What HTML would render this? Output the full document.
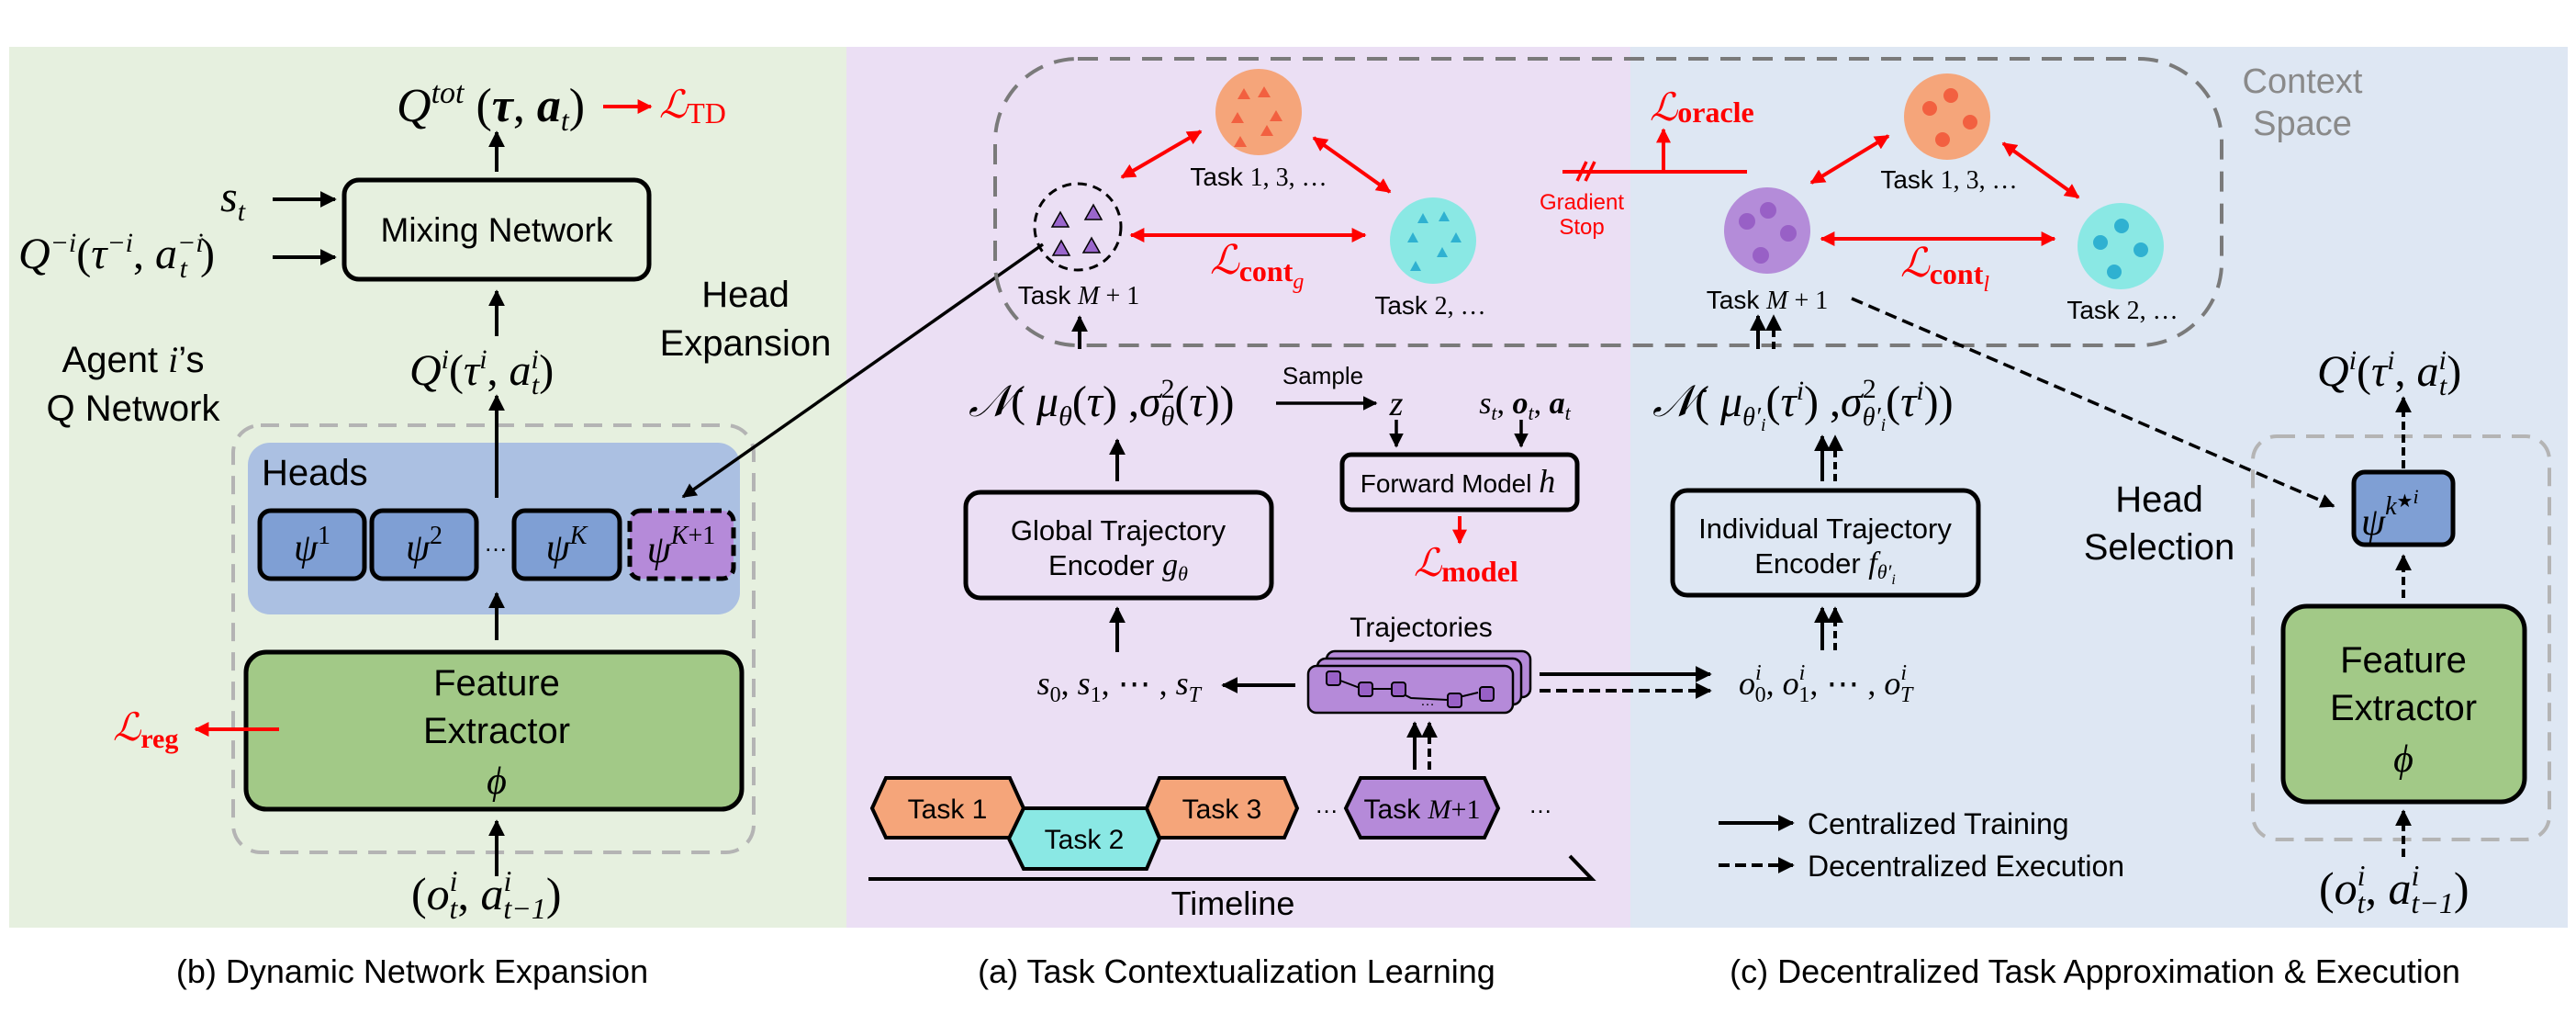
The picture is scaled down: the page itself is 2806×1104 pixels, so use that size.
<!DOCTYPE html>
<html><head><meta charset="utf-8"><style>
html,body{margin:0;padding:0;background:#fff}
svg{display:block}
.s{font-family:"Liberation Sans",sans-serif}
.m{font-family:"Liberation Serif",serif;font-style:italic}
.r{font-family:"Liberation Serif",serif}
</style></head><body>
<svg width="2806" height="1104" viewBox="0 0 2806 1104" xmlns="http://www.w3.org/2000/svg">
<defs>
<marker id="a" viewBox="0 0 10 10" refX="9" refY="5" markerWidth="4.5" markerHeight="4.5" orient="auto-start-reverse" markerUnits="strokeWidth"><path d="M0,0L10,5L0,10z" fill="#000"/></marker>
<marker id="ar" viewBox="0 0 10 10" refX="9" refY="5" markerWidth="4" markerHeight="4" orient="auto-start-reverse" markerUnits="strokeWidth"><path d="M0,0L10,5L0,10z" fill="#f00"/></marker>
</defs>
<rect x="10" y="51" width="912" height="959" fill="#e6f0df"/>
<rect x="922" y="51" width="854" height="959" fill="#ebdff4"/>
<rect x="1776" y="51" width="1021" height="959" fill="#dee7f3"/>

<!-- ============ (b) ============ -->
<text x="432" y="132" class="m" font-size="52">Q<tspan font-size="34" dy="-20">tot</tspan><tspan dy="20" font-style="normal"> (</tspan><tspan font-weight="bold">τ</tspan><tspan font-style="normal">, </tspan><tspan font-weight="bold">a</tspan><tspan font-size="32" dy="10">t</tspan><tspan dy="-10" font-style="normal">)</tspan></text>
<line x1="657" y1="116" x2="709" y2="116" stroke="#f00" stroke-width="4" marker-end="url(#ar)"/>
<text x="718" y="128" class="m" font-size="42" fill="#f00">ℒ<tspan class="r" font-style="normal" font-size="32" dy="6">TD</tspan></text>
<rect x="375" y="196" width="332" height="108" rx="16" fill="none" stroke="#000" stroke-width="5"/>
<text x="541" y="263" class="s" font-size="37" text-anchor="middle">Mixing Network</text>
<line x1="541" y1="187" x2="541" y2="144" stroke="#000" stroke-width="4" marker-end="url(#a)"/>
<text x="240" y="230" class="m" font-size="48">s<tspan font-size="30" dy="10">t</tspan></text>
<line x1="297" y1="217" x2="365" y2="217" stroke="#000" stroke-width="4" marker-end="url(#a)"/>
<text x="20" y="292" class="m" font-size="48">Q<tspan font-size="30" dy="-18">−i</tspan><tspan dy="18" font-style="normal">(</tspan>τ<tspan font-size="30" dy="-18">−i</tspan><tspan dy="18" font-style="normal">, </tspan>a<tspan font-size="30" dy="-18">−i</tspan><tspan font-size="30" dx="-26" dy="28">t</tspan><tspan dy="-10" dx="14" font-style="normal">)</tspan></text>
<line x1="297" y1="280" x2="365" y2="280" stroke="#000" stroke-width="4" marker-end="url(#a)"/>
<line x1="541" y1="366" x2="541" y2="317" stroke="#000" stroke-width="4" marker-end="url(#a)"/>
<text x="446" y="419" class="m" font-size="48">Q<tspan font-size="30" dy="-18">i</tspan><tspan dy="18" font-style="normal">(</tspan>τ<tspan font-size="30" dy="-18">i</tspan><tspan dy="18" font-style="normal">, </tspan>a<tspan font-size="30" dy="-18">i</tspan><tspan font-size="30" dx="-8" dy="28">t</tspan><tspan dy="-10" font-style="normal">)</tspan></text>
<text x="812" y="334" class="s" font-size="40" text-anchor="middle">Head</text>
<text x="812" y="387" class="s" font-size="40" text-anchor="middle">Expansion</text>
<text x="145" y="405" class="s" font-size="40" text-anchor="middle">Agent <tspan class="m">i</tspan>’s</text>
<text x="145" y="458" class="s" font-size="40" text-anchor="middle">Q Network</text>
<rect x="254" y="463" width="567" height="465" rx="30" fill="none" stroke="#b4b4b4" stroke-width="4" stroke-dasharray="20,12"/>
<rect x="270" y="482" width="536" height="187" rx="24" fill="#abc0e2"/>
<text x="285" y="528" class="s" font-size="40">Heads</text>
<rect x="283" y="556" width="114" height="74" rx="12" fill="#7f9fd4" stroke="#000" stroke-width="5"/>
<rect x="405" y="556" width="114" height="74" rx="12" fill="#7f9fd4" stroke="#000" stroke-width="5"/>
<rect x="560" y="556" width="115" height="74" rx="12" fill="#7f9fd4" stroke="#000" stroke-width="5"/>
<rect x="686" y="556" width="113" height="74" rx="12" fill="#b58ad9" stroke="#000" stroke-width="5" stroke-dasharray="12,7"/>
<text x="340" y="610" class="m" font-size="42" text-anchor="middle">ψ<tspan class="r" font-style="normal" font-size="28" dy="-18">1</tspan></text>
<text x="462" y="610" class="m" font-size="42" text-anchor="middle">ψ<tspan class="r" font-style="normal" font-size="28" dy="-18">2</tspan></text>
<text x="540" y="600" class="s" font-size="26" text-anchor="middle">…</text>
<text x="617" y="610" class="m" font-size="42" text-anchor="middle">ψ<tspan font-size="28" dy="-18">K</tspan></text>
<text x="742" y="612" class="m" font-size="42" text-anchor="middle">ψ<tspan font-size="28" dy="-20">K</tspan><tspan class="r" font-style="normal" font-size="28">+1</tspan></text>
<line x1="541" y1="542" x2="541" y2="431" stroke="#000" stroke-width="4" marker-end="url(#a)"/>
<line x1="541" y1="697" x2="541" y2="646" stroke="#000" stroke-width="4" marker-end="url(#a)"/>
<rect x="268" y="710" width="540" height="171" rx="22" fill="#a2c987" stroke="#000" stroke-width="5"/>
<text x="541" y="757" class="s" font-size="40" text-anchor="middle">Feature</text>
<text x="541" y="809" class="s" font-size="40" text-anchor="middle">Extractor</text>
<text x="541" y="864" class="m" font-size="42" text-anchor="middle">ϕ</text>
<line x1="304" y1="794" x2="213" y2="794" stroke="#f00" stroke-width="4" marker-end="url(#ar)"/>
<text x="123" y="806" class="m" font-size="42" fill="#f00">ℒ<tspan class="r" font-style="normal" font-weight="bold" font-size="30" dy="8">reg</tspan></text>
<line x1="541" y1="954" x2="541" y2="894" stroke="#000" stroke-width="4" marker-end="url(#a)"/>
<text x="448" y="990" class="m" font-size="50"><tspan font-style="normal">(</tspan>o<tspan font-size="32" dy="-20">i</tspan><tspan font-size="32" dx="-9" dy="30">t</tspan><tspan dy="-10" font-style="normal">, </tspan>a<tspan font-size="32" dy="-20">i</tspan><tspan font-size="32" dx="-9" dy="30">t−1</tspan><tspan dy="-10" font-style="normal">)</tspan></text>
<text x="449" y="1070" class="s" font-size="36" text-anchor="middle">(b) Dynamic Network Expansion</text>

<line x1="1136" y1="266" x2="744" y2="541" stroke="#000" stroke-width="3.5" marker-end="url(#a)"/>

<!-- ============ context space ============ -->
<path d="M1174,64 H2330 A90,90 0 0 1 2420,154 V286 A90,90 0 0 1 2330,376 H1174 A90,90 0 0 1 1084,286 V154 A90,90 0 0 1 1174,64 Z" fill="none" stroke="#7a7a7a" stroke-width="4" stroke-dasharray="22,13"/>
<text x="2508" y="101" class="s" font-size="38" fill="#8a8a8a" text-anchor="middle">Context</text>
<text x="2508" y="147" class="s" font-size="38" fill="#8a8a8a" text-anchor="middle">Space</text>
<circle cx="1371" cy="122" r="47" fill="#f5a57a"/>
<g fill="#f26040">
<path d="M1355,96l7,12h-14z"/><path d="M1377,94l7,12h-14z"/><path d="M1348,122l7,12h-14z"/><path d="M1390,120l7,12h-14z"/><path d="M1380,136l7,12h-14z"/><path d="M1351,148l7,12h-14z"/></g>
<circle cx="1561" cy="262" r="47" fill="#8ae8e4"/>
<g fill="#2fb1d1">
<path d="M1550,232l6,11h-12z"/><path d="M1573,230l6,11h-12z"/><path d="M1539,253l6,11h-12z"/><path d="M1586,253l6,11h-12z"/><path d="M1571,269l6,11h-12z"/><path d="M1542,284l6,11h-12z"/></g>
<ellipse cx="1174" cy="247" rx="47" ry="47" fill="none" stroke="#000" stroke-width="3" stroke-dasharray="10,7"/>
<g fill="#9a66cc" stroke="#000" stroke-width="1.5">
<path d="M1155,231l9,16h-18z"/><path d="M1191,223l9,16h-18z"/><path d="M1156,262l9,16h-18z"/><path d="M1189,259l9,16h-18z"/></g>
<text x="1371" y="202" class="s" font-size="28" text-anchor="middle">Task <tspan class="r">1, 3, …</tspan></text>
<text x="1558" y="342" class="s" font-size="28" text-anchor="middle">Task <tspan class="r">2, …</tspan></text>
<text x="1175" y="331" class="s" font-size="28" text-anchor="middle">Task <tspan class="m">M</tspan><tspan class="r"> + 1</tspan></text>
<line x1="1222" y1="193" x2="1308" y2="143" stroke="#f00" stroke-width="4" marker-start="url(#ar)" marker-end="url(#ar)"/>
<line x1="1431" y1="150" x2="1514" y2="209" stroke="#f00" stroke-width="4" marker-start="url(#ar)" marker-end="url(#ar)"/>
<line x1="1232" y1="256" x2="1487" y2="256" stroke="#f00" stroke-width="4" marker-start="url(#ar)" marker-end="url(#ar)"/>
<text x="1318" y="298" class="m" font-size="44" fill="#f00">ℒ<tspan class="r" font-style="normal" font-weight="bold" font-size="32" dy="8">cont</tspan><tspan font-size="24" dy="8">g</tspan></text>
<circle cx="1925" cy="251" r="47" fill="#b48cd9"/>
<g fill="#9860c6"><circle cx="1903" cy="241" r="9"/><circle cx="1926" cy="229" r="9"/><circle cx="1948" cy="254" r="9"/><circle cx="1918" cy="278" r="9"/></g>
<circle cx="2121" cy="127" r="47" fill="#f5a57a"/>
<g fill="#f26040"><circle cx="2102" cy="118" r="8"/><circle cx="2125" cy="104" r="8"/><circle cx="2146" cy="133" r="8"/><circle cx="2116" cy="152" r="8"/></g>
<circle cx="2310" cy="268" r="47" fill="#8ae8e4"/>
<g fill="#2fb1d1"><circle cx="2288" cy="264" r="8"/><circle cx="2311" cy="246" r="8"/><circle cx="2332" cy="272" r="8"/><circle cx="2303" cy="296" r="8"/></g>
<text x="2123" y="205" class="s" font-size="28" text-anchor="middle">Task <tspan class="r">1, 3, …</tspan></text>
<text x="2312" y="347" class="s" font-size="28" text-anchor="middle">Task <tspan class="r">2, …</tspan></text>
<text x="1925" y="336" class="s" font-size="28" text-anchor="middle">Task <tspan class="m">M</tspan><tspan class="r"> + 1</tspan></text>
<line x1="1973" y1="199" x2="2057" y2="148" stroke="#f00" stroke-width="4" marker-start="url(#ar)" marker-end="url(#ar)"/>
<line x1="2182" y1="156" x2="2264" y2="215" stroke="#f00" stroke-width="4" marker-start="url(#ar)" marker-end="url(#ar)"/>
<line x1="1984" y1="260" x2="2238" y2="260" stroke="#f00" stroke-width="4" marker-start="url(#ar)" marker-end="url(#ar)"/>
<text x="2070" y="301" class="m" font-size="44" fill="#f00">ℒ<tspan class="r" font-style="normal" font-weight="bold" font-size="32" dy="8">cont</tspan><tspan font-size="24" dy="8">l</tspan></text>
<line x1="1702" y1="187" x2="1903" y2="187" stroke="#f00" stroke-width="4"/>
<line x1="1718" y1="197" x2="1728" y2="176" stroke="#f00" stroke-width="3.5"/>
<line x1="1727" y1="197" x2="1737" y2="176" stroke="#f00" stroke-width="3.5"/>
<line x1="1812" y1="187" x2="1812" y2="141" stroke="#f00" stroke-width="4" marker-end="url(#ar)"/>
<text x="1797" y="131" class="m" font-size="42" fill="#f00">ℒ<tspan class="r" font-style="normal" font-weight="bold" font-size="32" dy="2">oracle</tspan></text>
<text x="1723" y="228" class="s" font-size="24" fill="#f00" text-anchor="middle">Gradient</text>
<text x="1723" y="255" class="s" font-size="24" fill="#f00" text-anchor="middle">Stop</text>

<!-- ============ (a) ============ -->
<line x1="1176" y1="380" x2="1176" y2="345" stroke="#000" stroke-width="4" marker-end="url(#a)"/>
<text x="1055" y="453" class="m" font-size="48">𝒩<tspan font-style="normal">( </tspan>μ<tspan font-size="30" dy="10">θ</tspan><tspan dy="-10" font-style="normal">(</tspan>τ<tspan font-style="normal">) ,</tspan>σ<tspan class="r" font-style="normal" font-size="30" dy="-20">2</tspan><tspan font-size="30" dx="-15" dy="30">θ</tspan><tspan dy="-10" font-style="normal">(</tspan>τ<tspan font-style="normal">))</tspan></text>
<text x="1441" y="418" class="s" font-size="26" text-anchor="middle">Sample</text>
<line x1="1390" y1="439" x2="1499" y2="439" stroke="#000" stroke-width="3.5" marker-end="url(#a)"/>
<text x="1521" y="452" class="m" font-size="38" text-anchor="middle">z</text>
<text x="1661" y="450" class="m" font-size="34" text-anchor="middle">s<tspan font-size="22" dy="7">t</tspan><tspan dy="-7" font-style="normal">, </tspan><tspan font-weight="bold">o</tspan><tspan font-size="22" dy="7">t</tspan><tspan dy="-7" font-style="normal">, </tspan><tspan font-weight="bold">a</tspan><tspan font-size="22" dy="7">t</tspan></text>
<line x1="1521" y1="457" x2="1521" y2="486" stroke="#000" stroke-width="3.5" marker-end="url(#a)"/>
<line x1="1657" y1="457" x2="1657" y2="486" stroke="#000" stroke-width="3.5" marker-end="url(#a)"/>
<rect x="1462" y="495" width="256" height="60" rx="10" fill="none" stroke="#000" stroke-width="5"/>
<text x="1588" y="536" class="s" font-size="28" text-anchor="middle">Forward Model <tspan class="m" font-size="36">h</tspan></text>
<line x1="1590" y1="562" x2="1590" y2="591" stroke="#f00" stroke-width="4" marker-end="url(#ar)"/>
<text x="1540" y="627" class="m" font-size="42" fill="#f00">ℒ<tspan class="r" font-style="normal" font-weight="bold" font-size="32" dy="6">model</tspan></text>
<line x1="1217" y1="524" x2="1217" y2="479" stroke="#000" stroke-width="4" marker-end="url(#a)"/>
<rect x="1052" y="536" width="333" height="115" rx="16" fill="none" stroke="#000" stroke-width="5"/>
<text x="1218" y="588" class="s" font-size="31" text-anchor="middle">Global Trajectory</text>
<text x="1218" y="626" class="s" font-size="31" text-anchor="middle">Encoder <tspan class="m" font-size="34">g</tspan><tspan class="m" font-size="22" dy="6">θ</tspan></text>
<line x1="1217" y1="710" x2="1217" y2="662" stroke="#000" stroke-width="4" marker-end="url(#a)"/>
<text x="1308" y="756" class="m" font-size="36" text-anchor="end">s<tspan class="r" font-style="normal" font-size="24" dy="8">0</tspan><tspan dy="-8" font-style="normal">, </tspan>s<tspan class="r" font-style="normal" font-size="24" dy="8">1</tspan><tspan dy="-8" font-style="normal">, ⋯ , </tspan>s<tspan font-size="24" dy="8">T</tspan></text>
<line x1="1411" y1="746" x2="1332" y2="746" stroke="#000" stroke-width="4" marker-end="url(#a)"/>
<text x="1548" y="693" class="s" font-size="30" text-anchor="middle">Trajectories</text>
<rect x="1445" y="709" width="222" height="50" rx="9" fill="#b58ad9" stroke="#000" stroke-width="2.5"/>
<rect x="1435" y="717" width="222" height="50" rx="9" fill="#b58ad9" stroke="#000" stroke-width="2.5"/>
<rect x="1425" y="725" width="223" height="51" rx="9" fill="#b58ad9" stroke="#000" stroke-width="2.5"/>
<polyline points="1452,738 1484,750 1517,750 1537,760 1577,762 1610,754" fill="none" stroke="#000" stroke-width="2"/>
<g fill="#9860c6" stroke="#000" stroke-width="2">
<rect x="1445" y="731" width="15" height="15" rx="3"/><rect x="1480" y="743" width="15" height="15" rx="3"/><rect x="1516" y="743" width="15" height="15" rx="3"/><rect x="1577" y="755" width="15" height="15" rx="3"/><rect x="1612" y="748" width="15" height="15" rx="3"/></g>
<text x="1555" y="768" class="s" font-size="16" text-anchor="middle">…</text>
<line x1="1677" y1="734" x2="1863" y2="734" stroke="#000" stroke-width="4" marker-end="url(#a)"/>
<line x1="1677" y1="752" x2="1863" y2="752" stroke="#000" stroke-width="4" stroke-dasharray="12,6" marker-end="url(#a)"/>
<line x1="1541" y1="838" x2="1541" y2="787" stroke="#000" stroke-width="4" marker-end="url(#a)"/>
<line x1="1557" y1="838" x2="1557" y2="787" stroke="#000" stroke-width="4" stroke-dasharray="9,5" marker-end="url(#a)"/>
<g stroke="#000" stroke-width="4">
<polygon points="950,880 965,847 1100,847 1115,880 1100,912 965,912" fill="#f5a57a"/>
<polygon points="1099,913 1115,880 1249,880 1263,913 1249,946 1115,946" fill="#8ae8e4"/>
<polygon points="1249,880 1263,847 1399,847 1413,880 1399,912 1263,912" fill="#f5a57a"/>
<polygon points="1466,880 1482,847 1617,847 1632,880 1617,912 1482,912" fill="#b58ad9"/>
</g>
<text x="1032" y="891" class="s" font-size="30" text-anchor="middle">Task 1</text>
<text x="1181" y="924" class="s" font-size="30" text-anchor="middle">Task 2</text>
<text x="1331" y="891" class="s" font-size="30" text-anchor="middle">Task 3</text>
<text x="1549" y="891" class="s" font-size="30" text-anchor="middle">Task <tspan class="m">M</tspan><tspan class="r">+1</tspan></text>
<text x="1445" y="885" class="s" font-size="26" text-anchor="middle">…</text>
<text x="1678" y="885" class="s" font-size="26" text-anchor="middle">…</text>
<polyline points="946,957 1734,957 1710,932" fill="none" stroke="#000" stroke-width="4"/>
<text x="1343" y="996" class="s" font-size="36" text-anchor="middle">Timeline</text>
<text x="1347" y="1070" class="s" font-size="36" text-anchor="middle">(a) Task Contextualization Learning</text>

<!-- ============ (c) ============ -->
<line x1="1915" y1="380" x2="1915" y2="344" stroke="#000" stroke-width="4" marker-end="url(#a)"/>
<line x1="1932" y1="380" x2="1932" y2="344" stroke="#000" stroke-width="4" stroke-dasharray="8,5" marker-end="url(#a)"/>
<text x="1800" y="453" class="m" font-size="48">𝒩<tspan font-style="normal">( </tspan>μ<tspan font-size="28" dy="10">θ′</tspan><tspan font-size="20" dy="6">i</tspan><tspan dy="-16" font-style="normal">(</tspan>τ<tspan font-size="30" dy="-18">i</tspan><tspan dy="18" font-style="normal">) ,</tspan>σ<tspan class="r" font-style="normal" font-size="30" dy="-20">2</tspan><tspan font-size="28" dx="-15" dy="30">θ′</tspan><tspan font-size="20" dy="6">i</tspan><tspan dy="-16" font-style="normal">(</tspan>τ<tspan font-size="30" dy="-18">i</tspan><tspan dy="18" font-style="normal">))</tspan></text>
<line x1="1985" y1="524" x2="1985" y2="475" stroke="#000" stroke-width="4" marker-end="url(#a)"/>
<line x1="1999" y1="524" x2="1999" y2="475" stroke="#000" stroke-width="4" stroke-dasharray="8,5" marker-end="url(#a)"/>
<rect x="1822" y="534" width="333" height="114" rx="16" fill="none" stroke="#000" stroke-width="5"/>
<text x="1988" y="586" class="s" font-size="31" text-anchor="middle">Individual Trajectory</text>
<text x="1988" y="624" class="s" font-size="31" text-anchor="middle">Encoder <tspan class="m" font-size="34">f</tspan><tspan class="m" font-size="22" dy="6">θ′</tspan><tspan class="m" font-size="16" dy="6">i</tspan></text>
<line x1="1985" y1="708" x2="1985" y2="662" stroke="#000" stroke-width="4" marker-end="url(#a)"/>
<line x1="1999" y1="708" x2="1999" y2="662" stroke="#000" stroke-width="4" stroke-dasharray="8,5" marker-end="url(#a)"/>
<text x="1894" y="756" class="m" font-size="36">o<tspan font-size="24" dy="-16">i</tspan><tspan class="r" font-style="normal" font-size="24" dx="-7" dy="24">0</tspan><tspan dy="-8" font-style="normal">, </tspan>o<tspan font-size="24" dy="-16">i</tspan><tspan class="r" font-style="normal" font-size="24" dx="-7" dy="24">1</tspan><tspan dy="-8" font-style="normal">, ⋯ , </tspan>o<tspan font-size="24" dy="-16">i</tspan><tspan font-size="24" dx="-7" dy="24">T</tspan></text>
<line x1="2017" y1="325" x2="2542" y2="551" stroke="#000" stroke-width="3.5" stroke-dasharray="13,7" marker-end="url(#a)"/>
<text x="2352" y="557" class="s" font-size="40" text-anchor="middle">Head</text>
<text x="2352" y="609" class="s" font-size="40" text-anchor="middle">Selection</text>
<rect x="2454" y="475" width="323" height="439" rx="26" fill="none" stroke="#b4b4b4" stroke-width="4" stroke-dasharray="20,12"/>
<text x="2524" y="420" class="m" font-size="48">Q<tspan font-size="30" dy="-18">i</tspan><tspan dy="18" font-style="normal">(</tspan>τ<tspan font-size="30" dy="-18">i</tspan><tspan dy="18" font-style="normal">, </tspan>a<tspan font-size="30" dy="-18">i</tspan><tspan font-size="30" dx="-8" dy="28">t</tspan><tspan dy="-10" font-style="normal">)</tspan></text>
<line x1="2618" y1="510" x2="2618" y2="433" stroke="#000" stroke-width="4" stroke-dasharray="9,5" marker-end="url(#a)"/>
<rect x="2564" y="514" width="108" height="79" rx="12" fill="#7f9fd4" stroke="#000" stroke-width="5"/>
<text x="2572" y="582" class="m" font-size="42">ψ<tspan font-size="28" dy="-22">k</tspan><tspan font-style="normal" font-size="20" dy="-8">★</tspan><tspan font-size="22" dy="-4">i</tspan></text>
<line x1="2618" y1="651" x2="2618" y2="605" stroke="#000" stroke-width="4" stroke-dasharray="9,5" marker-end="url(#a)"/>
<rect x="2487" y="660" width="263" height="213" rx="26" fill="#a2c987" stroke="#000" stroke-width="5"/>
<text x="2618" y="732" class="s" font-size="40" text-anchor="middle">Feature</text>
<text x="2618" y="784" class="s" font-size="40" text-anchor="middle">Extractor</text>
<text x="2618" y="840" class="m" font-size="42" text-anchor="middle">ϕ</text>
<line x1="2618" y1="933" x2="2618" y2="883" stroke="#000" stroke-width="4" stroke-dasharray="9,5" marker-end="url(#a)"/>
<text x="2526" y="984" class="m" font-size="50"><tspan font-style="normal">(</tspan>o<tspan font-size="32" dy="-20">i</tspan><tspan font-size="32" dx="-9" dy="30">t</tspan><tspan dy="-10" font-style="normal">, </tspan>a<tspan font-size="32" dy="-20">i</tspan><tspan font-size="32" dx="-9" dy="30">t−1</tspan><tspan dy="-10" font-style="normal">)</tspan></text>
<line x1="1872" y1="896" x2="1953" y2="896" stroke="#000" stroke-width="4" marker-end="url(#a)"/>
<line x1="1872" y1="942" x2="1953" y2="942" stroke="#000" stroke-width="4" stroke-dasharray="12,6" marker-end="url(#a)"/>
<text x="1969" y="908" class="s" font-size="32">Centralized Training</text>
<text x="1969" y="954" class="s" font-size="32">Decentralized Execution</text>
<text x="2282" y="1070" class="s" font-size="36" text-anchor="middle">(c) Decentralized Task Approximation &amp; Execution</text>
</svg>
</body></html>
